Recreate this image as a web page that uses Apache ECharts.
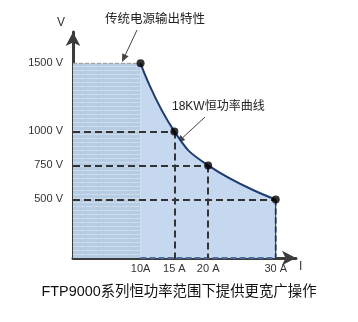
<!DOCTYPE html>
<html>
<head>
<meta charset="utf-8">
<script src="https://cdn.jsdelivr.net/npm/echarts@6/dist/echarts.min.js"></script>
<style>
  html, body { margin: 0; padding: 0; background: #fff; }
  #chart { width: 358px; height: 322px; }
</style>
</head>
<body>
<div id="chart"></div>
<script>
// 数据
var currentA = [10, 15, 20, 30];
var voltageV = [1500, 1000, 750, 500];
var flatCurrent = [0, 10];
var flatVoltage = [1500, 1500];
var xTicks = [10, 15, 20, 30];
var yTicks = [500, 750, 1000, 1500];

var FONT = '"Liberation Sans", "Noto Sans CJK SC", sans-serif';

// 左侧纹理
function brickPattern() {
    var c = document.createElement('canvas');
    c.width = 18; c.height = 8;
    var ctx = c.getContext('2d');
    ctx.fillStyle = '#b6cce3';
    ctx.fillRect(0, 0, 18, 8);
    ctx.fillStyle = '#cfdded';
    ctx.fillRect(0, 2, 8, 1);
    ctx.fillRect(9, 2, 9, 1);
    ctx.fillRect(4, 6, 9, 1);
    ctx.fillRect(14, 6, 4, 1);
    ctx.fillRect(0, 6, 3, 1);
    return c;
}

function pairs(xs, ys) {
    return xs.map(function (x, i) { return [x, ys[i]]; });
}

function arrow(x1, y1, x2, y2) {
    var a = Math.atan2(y2 - y1, x2 - x1), L = 8, W = 3.5;
    var bx = x2 - L * Math.cos(a), by = y2 - L * Math.sin(a);
    return [
        { type: 'line', shape: { x1: x1, y1: y1, x2: bx, y2: by }, style: { stroke: '#444', lineWidth: 1 } },
        { type: 'polygon', shape: { points: [[x2, y2],
            [bx + W * Math.sin(a), by - W * Math.cos(a)],
            [bx - W * Math.sin(a), by + W * Math.cos(a)]] }, style: { fill: '#444' } }
    ];
}

var yMin = 70;
var dash = { color: '#333', width: 2, type: [7, 4] };

var myChart = echarts.init(document.getElementById('chart'));
var option = {
    animation: false,
    grid: { left: 73, right: 62, top: 32, bottom: 64 },
    xAxis: {
        type: 'value', min: 0, max: 33,
        splitLine: { show: false },
        axisLine: { lineStyle: { color: '#3c3c3c', width: 3 }, symbol: ['none', 'arrow'], symbolSize: [11, 14] },
        axisTick: { show: false },
        axisLabel: {
            customValues: xTicks, margin: 5, color: '#333', fontSize: 11, fontFamily: FONT,
            formatter: function (v) { return v === 10 ? v + 'A' : v + ' A'; }
        }
    },
    yAxis: {
        type: 'value', min: yMin, max: 1730,
        splitLine: { show: false },
        axisLine: { lineStyle: { color: '#3c3c3c', width: 3 }, symbol: ['none', 'arrow'], symbolSize: [11, 14] },
        axisTick: { show: false },
        axisLabel: {
            customValues: yTicks, margin: 10, color: '#333', fontSize: 11, fontFamily: FONT,
            formatter: function (v) { return v + ' V'; }
        }
    },
    series: [
        {
            // 传统电源
            type: 'line', data: pairs(flatCurrent, flatVoltage), symbol: 'none',
            lineStyle: { color: '#9a9a9a', width: 1, type: [4, 2] },
            areaStyle: { color: { image: brickPattern(), repeat: 'repeat' }, opacity: 1 },
            z: 2
        },
        {
            // 恒功率曲线
            type: 'line', data: pairs(currentA, voltageV), symbol: 'none',
            smooth: 0.5,
            lineStyle: { color: '#1f3d73', width: 2 },
            areaStyle: { color: '#c6d8ef', opacity: 1 },
            z: 2,
            markLine: {
                silent: true, symbol: 'none', label: { show: false },
                lineStyle: dash,
                data: [
                    [{ coord: [0, voltageV[1]] }, { coord: [currentA[1], voltageV[1]] }],
                    [{ coord: [0, voltageV[2]] }, { coord: [currentA[2], voltageV[2]] }],
                    [{ coord: [0, voltageV[3]] }, { coord: [currentA[3], voltageV[3]] }],
                    [{ coord: [currentA[1], voltageV[1]] }, { coord: [currentA[1], yMin] }],
                    [{ coord: [currentA[2], voltageV[2]] }, { coord: [currentA[2], yMin] }]
                ]
            }
        },
        {
            type: 'line', data: [[currentA[3], voltageV[3]], [currentA[3], yMin]], symbol: 'none',
            lineStyle: { color: '#222', width: 1 }, z: 4
        },
        {
            type: 'line', data: [[currentA[3], voltageV[3]], [currentA[3], yMin]], symbol: 'none',
            lineStyle: { color: '#4a6c9e', width: 2, type: [6, 3] }, z: 3
        },
        {
            type: 'line', data: [[flatCurrent[1], yMin], [currentA[3], yMin]], symbol: 'none',
            lineStyle: { color: '#4a6c9e', width: 2, type: [6, 3] }, z: 3
        },
        {
            type: 'scatter', data: pairs(currentA, voltageV), symbolSize: 8,
            itemStyle: { color: '#000' }, z: 5
        }
    ],
    graphic: [
        { type: 'text', left: 57, top: 17, style: { text: 'V', font: '12px ' + FONT, fill: '#333' } },
        { type: 'text', left: 299, top: 261, style: { text: 'I', font: '12px ' + FONT, fill: '#333' } },
        { type: 'text', left: 105, top: 13, style: { text: '传统电源输出特性', font: '12.5px ' + FONT, fill: '#222' } },
        { type: 'text', left: 172, top: 101, style: { text: '18KW恒功率曲线', font: '12px ' + FONT, fill: '#222' } },
        { type: 'text', left: 'center', top: 285, style: { text: 'FTP9000系列恒功率范围下提供更宽广操作', font: '14.4px ' + FONT, fill: '#111' } }
    ].concat(arrow(137, 30, 122, 62)).concat(arrow(205, 117, 177, 143))
};
myChart.setOption(option);
</script>
</body>
</html>
